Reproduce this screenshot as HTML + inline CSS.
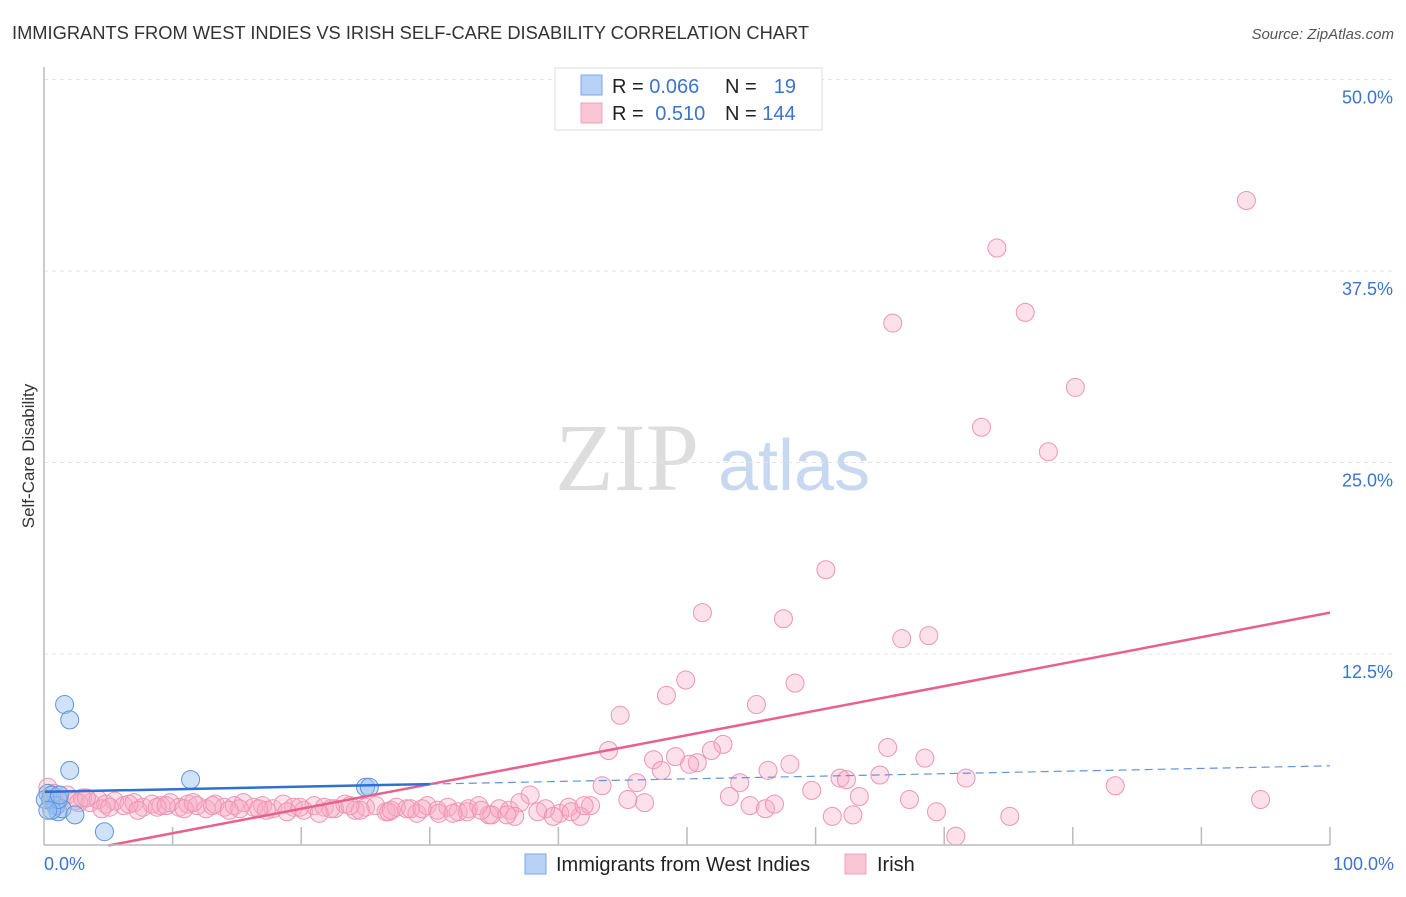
<!DOCTYPE html>
<html><head><meta charset="utf-8"><style>
body{margin:0;background:#fff;font-family:"Liberation Sans",sans-serif;}
#wrap{position:relative;width:1406px;height:892px;}
</style></head><body>
<div id="wrap">
<svg id="svg" width="1406" height="892" xmlns="http://www.w3.org/2000/svg">
<text x="12" y="39" font-size="18.3" fill="#333">IMMIGRANTS FROM WEST INDIES VS IRISH SELF-CARE DISABILITY CORRELATION CHART</text>
<text x="1394" y="39" font-size="15" fill="#555" font-style="italic" text-anchor="end">Source: ZipAtlas.com</text>
<text x="34" y="456" font-size="17" fill="#333" text-anchor="middle" transform="rotate(-90 34 456)">Self-Care Disability</text>
<text x="555" y="490" font-size="96" fill="#ddd" font-family="Liberation Serif,serif">ZIP</text>
<text x="718" y="490" font-size="72" fill="#c8d8f0">atlas</text>
<g id="grid"></g><g id="pts"></g><g id="lines"></g>
<line x1="44" y1="67" x2="44" y2="845" stroke="#bbb" stroke-width="1.5"/>
<line x1="44" y1="845" x2="1330" y2="845" stroke="#bbb" stroke-width="1.5"/>
<text x="44" y="870" font-size="18" fill="#3a74d0">0.0%</text>
<text x="1394" y="870" font-size="18" fill="#3a74d0" text-anchor="end">100.0%</text>
<g>
<rect x="555" y="68" width="267" height="62" fill="#fff" stroke="#ddd"/>
<rect x="581" y="75" width="21" height="20" fill="#b8d2f5" stroke="#7aa8e6"/>
<rect x="581" y="103" width="21" height="20" fill="#f9c6d6" stroke="#f0a0bc"/>
<text x="612" y="93" font-size="20" fill="#222">R = <tspan fill="#3a74d0">0.066</tspan></text>
<text x="725" y="93" font-size="20" fill="#222">N = </text><text x="796" y="93" font-size="20" fill="#3a74d0" text-anchor="end">19</text>
<text x="612" y="120" font-size="20" fill="#222">R = <tspan fill="#3a74d0" dx="6">0.510</tspan></text>
<text x="725" y="120" font-size="20" fill="#222">N = <tspan fill="#3a74d0">144</tspan></text>
</g>
<g>
<rect x="525" y="854" width="21" height="20" fill="#b8d2f5" stroke="#7aa8e6"/>
<text x="556" y="871" font-size="20" fill="#222">Immigrants from West Indies</text>
<rect x="845" y="854" width="21" height="20" fill="#f9c6d6" stroke="#f0a0bc"/>
<text x="877" y="871" font-size="20" fill="#222">Irish</text>
</g>
</svg>
</div>
<script>
const yTicks=[12.5,25,37.5,50];
const yTickLabels=["12.5%","25.0%","37.5%","50.0%"];
const xTicks=[10,20,30,40,50,60,70,80,90,100];
const blueX=[0.3,0.5,0.6,0.9,1.1,1.4,1.6,2.0,2.0,2.4,4.7,11.4,25.0,25.3,0.6,1.1,0.1,0.3,1.2];
const blueY=[3.4,3.0,3.3,2.6,2.2,2.4,9.2,8.2,4.9,2.0,0.9,4.3,3.8,3.8,2.3,3.0,3.0,2.3,3.3];
const pinkX=[93.5,74.1,66.0,76.3,80.2,72.9,78.1,60.8,51.2,57.5,66.7,68.8,49.9,58.4,48.4,55.4,44.8,43.9,52.8,65.6,68.5,47.4,50.8,49.1,50.2,48.0,51.9,56.3,58.0,61.9,62.4,65.0,71.7,83.3,94.6,43.4,46.1,54.1,53.3,54.9,56.1,56.8,59.7,63.4,67.3,69.4,70.9,75.1,61.3,62.9,46.7,45.4,42.5,41.7,40.1,39.0,37.8,
0.3,0.8,1.2,1.8,2.4,3.0,3.6,4.2,4.8,5.5,6.2,7.0,7.7,8.4,9.1,9.8,10.5,11.2,11.9,12.6,13.3,14.0,14.8,15.5,16.3,17.0,17.8,18.6,19.4,20.2,21.0,21.8,22.6,23.4,24.2,25.0,25.8,26.6,27.4,28.2,29.0,29.8,30.6,31.4,32.2,33.0,33.8,34.6,35.4,36.2,37.0,38.4,39.6,40.8,41.0,42.0,
1.0,2.7,4.5,6.6,8.8,10.9,13.1,15.2,17.3,19.9,22.3,24.6,26.8,28.5,30.7,32.9,34.8,36.6,3.3,5.1,7.3,9.5,11.6,14.4,16.7,18.9,21.4,23.8,27.0,29.4,31.8,34.0,36.0];
const pinkY=[42.1,39.0,34.1,34.8,29.9,27.3,25.7,18.0,15.2,14.8,13.5,13.7,10.8,10.6,9.8,9.2,8.5,6.2,6.6,6.4,5.7,5.6,5.4,5.8,5.3,4.9,6.2,4.9,5.3,4.4,4.3,4.6,4.4,3.9,3.0,3.9,4.1,4.1,3.2,2.6,2.4,2.7,3.6,3.2,3.0,2.2,0.6,1.9,1.9,2.0,2.8,3.0,2.6,1.9,2.1,2.4,3.3,
3.8,3.4,3.0,3.3,2.9,3.1,2.8,3.0,2.7,2.9,2.6,2.8,2.5,2.7,2.6,2.8,2.5,2.7,2.6,2.4,2.7,2.5,2.6,2.8,2.5,2.6,2.4,2.7,2.5,2.3,2.6,2.5,2.4,2.7,2.3,2.5,2.6,2.2,2.5,2.4,2.1,2.6,2.3,2.5,2.2,2.4,2.6,2.0,2.4,2.3,2.8,2.2,1.9,2.5,2.2,2.6,
2.6,2.8,2.4,2.7,2.5,2.4,2.6,2.4,2.3,2.5,2.4,2.3,2.2,2.4,2.1,2.2,2.0,1.9,3.1,2.5,2.3,2.6,2.8,2.3,2.4,2.2,2.1,2.6,2.3,2.4,2.1,2.3,2.0];
const blueTrend=[3.5,5.2];
const pinkTrend=[-0.8,15.2];
const blueSolidEnd=30;
const X0=44,X1=1330,Y0=845.5,PPU=15.32;
const sx=v=>X0+(X1-X0)*v/100, sy=v=>Y0-v*PPU;
const NS="http://www.w3.org/2000/svg";
function mk(t,a,p){const e=document.createElementNS(NS,t);for(const k in a)e.setAttribute(k,a[k]);p.appendChild(e);return e;}
const grid=document.getElementById('grid'),pts=document.getElementById('pts'),lines=document.getElementById('lines'),svg=document.getElementById('svg');
yTicks.forEach((t,i)=>{
 const g=mk('line',{x1:X0,x2:1394,y1:sy(t),y2:sy(t),stroke:'#e4e4e4','stroke-dasharray':'4,4'},grid);
 
 
 const l=mk('text',{x:1393,y:sy(t)+24,'font-size':18,fill:'#3a74d0','text-anchor':'end'},svg);
 l.textContent=yTickLabels[i];
 
 
});
xTicks.forEach(t=>{
 const k=mk('line',{x1:sx(t),x2:sx(t),y1:827,y2:845,stroke:'#bbb','stroke-width':1.5},grid);
 
 
});
pinkX.forEach((x,i)=>{
 const c=mk('circle',{cx:sx(x),cy:sy(pinkY[i]),r:9,fill:'rgba(246,170,196,0.35)',stroke:'#ef94b4','stroke-width':1},pts);
 
 
});
blueX.forEach((x,i)=>{
 const c=mk('circle',{cx:sx(x),cy:sy(blueY[i]),r:9,fill:'rgba(150,190,240,0.45)',stroke:'#5f95dd','stroke-width':1},pts);
 
 
});
const by=x=>blueTrend[0]+(blueTrend[1]-blueTrend[0])*x/100;
const py=x=>pinkTrend[0]+(pinkTrend[1]-pinkTrend[0])*x/100;
const pStart=-pinkTrend[0]/(pinkTrend[1]-pinkTrend[0])*100;
let l1=mk('line',{x1:sx(pStart),y1:sy(0),x2:sx(100),y2:sy(py(100)),stroke:'#e8608c','stroke-width':2.5},lines);


let l2=mk('line',{x1:sx(0),y1:sy(by(0)),x2:sx(blueSolidEnd),y2:sy(by(blueSolidEnd)),stroke:'#2f6fd6','stroke-width':2.5},lines);


let l3=mk('line',{x1:sx(blueSolidEnd),y1:sy(by(blueSolidEnd)),x2:sx(100),y2:sy(by(100)),stroke:'#5f95dd','stroke-width':1.2,'stroke-dasharray':'8,5'},lines);


</script>
</body></html>
